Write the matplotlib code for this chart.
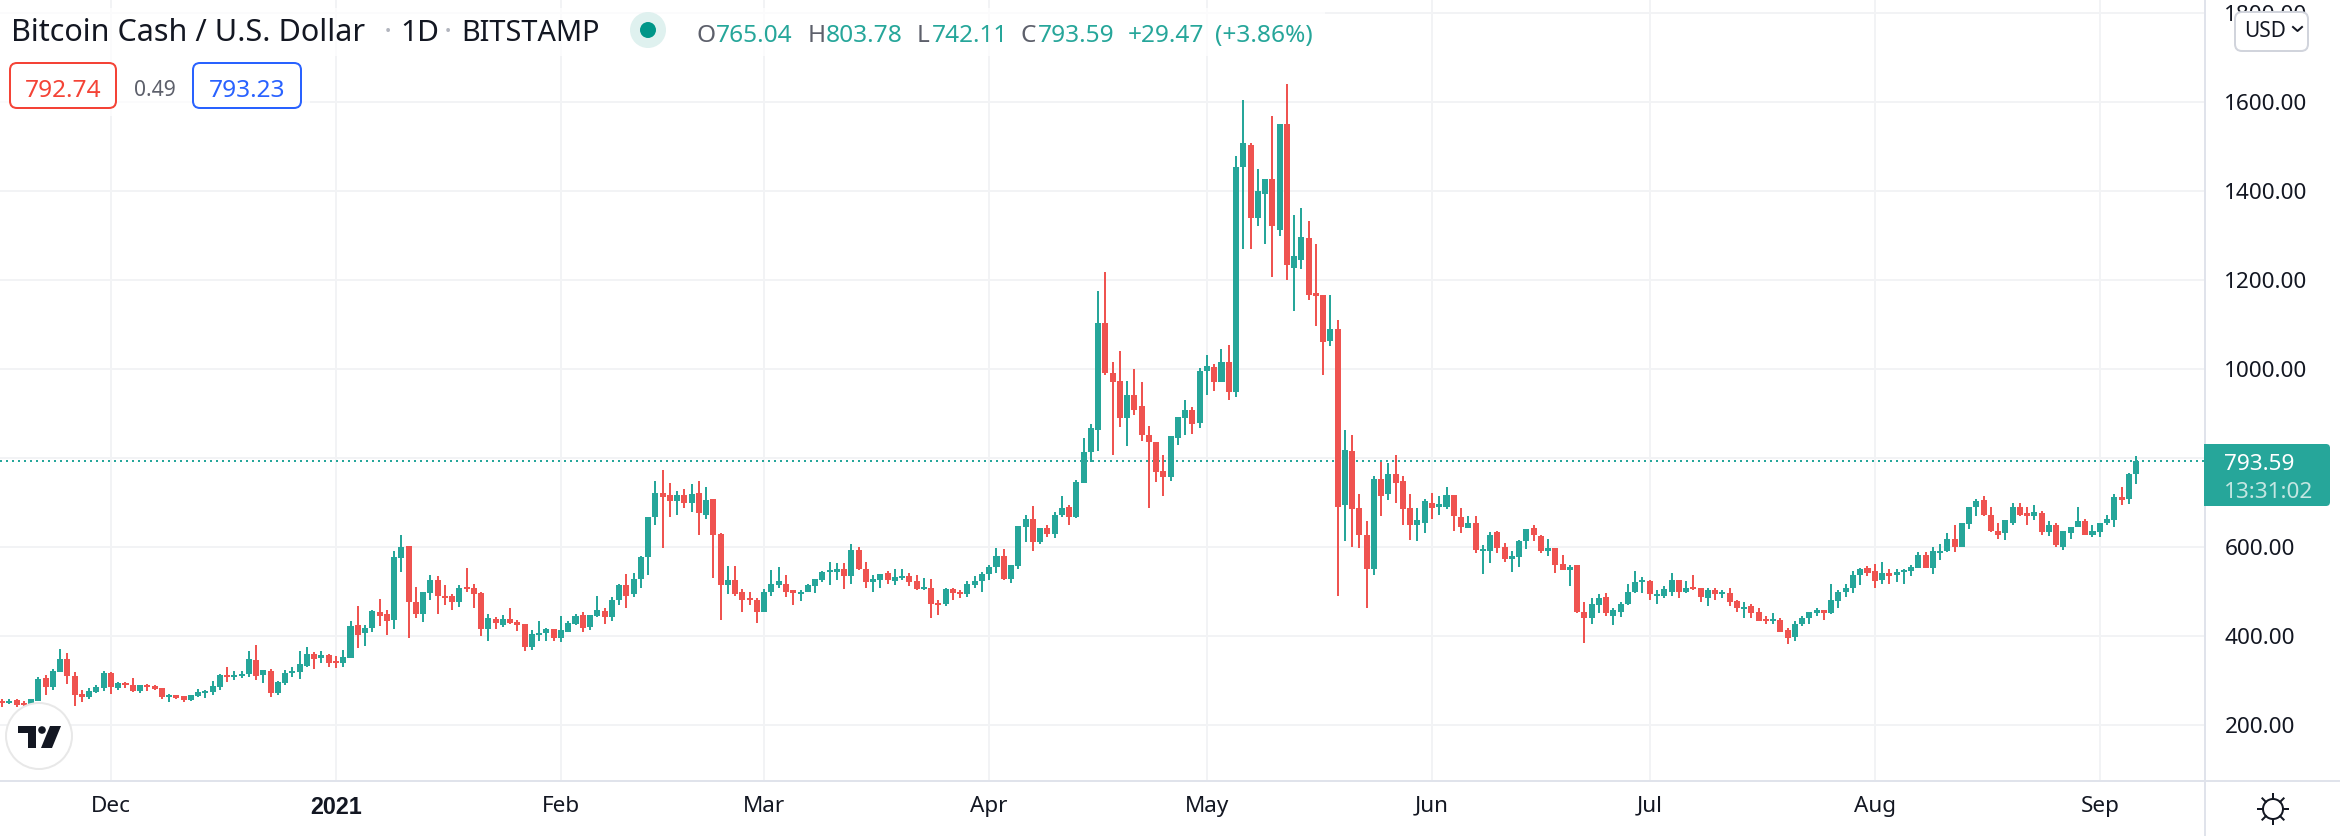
import numpy as np
import pandas as pd
import matplotlib
matplotlib.use('Agg')
import matplotlib.pyplot as plt
from matplotlib.patches import Circle, FancyBboxPatch, Polygon, Rectangle

plt.rcParams['font.family'] = ['Noto Sans', 'DejaVu Sans']

# daily candles, 2020-11-16 to 2021-09-06
opens = [
    252, 250, 256, 248, 246, 255, 306, 285, 319, 348,
    310, 270, 263, 274, 283, 317, 283, 294, 290, 276,
    290, 288, 283, 264, 267, 265, 256, 265, 272, 274,
    285, 310, 308, 310, 315, 346, 312, 321, 272, 294,
    317, 319, 333, 360, 351, 357, 341, 339, 351, 425,
    407, 418, 454, 449, 436, 575, 602, 476, 449, 497,
    526, 490, 490, 476, 508, 508, 497, 416, 438, 424,
    438, 431, 426, 375, 402, 406, 415, 395, 408, 426,
    447, 420, 444, 456, 442, 482, 514, 494, 527, 577,
    667, 721, 716, 703, 716, 700, 721, 673, 707, 629,
    514, 525, 498, 485, 480, 455, 498, 514, 518, 503,
    494, 498, 512, 525, 543, 543, 550, 534, 593, 550,
    521, 525, 541, 523, 530, 534, 523, 505, 509, 471,
    471, 505, 500, 494, 514, 523, 539, 554, 580, 528,
    557, 645, 663, 611, 643, 630, 673, 690, 667, 744,
    813, 862, 1103, 990, 972, 889, 941, 916, 851, 835,
    771, 757, 845, 889, 909, 878, 995, 1004, 970, 1015,
    948, 1453, 1503, 1339, 1393, 1428, 1312, 1550, 1228, 1244,
    1294, 1170, 1166, 1064, 1089, 694, 815, 687, 628, 550,
    752, 718, 763, 748, 687, 649, 655, 698, 690, 691,
    716, 667, 642, 655, 591, 590, 633, 601, 572, 577,
    613, 642, 624, 590, 597, 561, 548, 559, 453, 440,
    469, 487, 444, 455, 473, 498, 521, 523, 491, 491,
    500, 525, 500, 509, 507, 485, 503, 494, 496, 478,
    460, 467, 453, 437, 433, 435, 413, 397, 426, 440,
    451, 458, 451, 478, 498, 507, 536, 552, 545, 525,
    541, 536, 543, 545, 552, 581, 552, 586, 590, 619,
    601, 651, 689, 705, 671, 637, 631, 655, 691, 676,
    669, 676, 633, 649, 601, 631, 644, 658, 628, 633,
    653, 660, 712, 707, 765.04,
]
closes = [
    249, 255, 245, 246, 258, 303, 285, 321, 348, 311,
    267, 263, 276, 286, 317, 285, 294, 290, 276, 290,
    285, 282, 263, 267, 261, 256, 267, 274, 274, 288,
    312, 308, 312, 315, 348, 310, 324, 272, 297, 317,
    321, 337, 360, 348, 357, 339, 339, 353, 423, 402,
    418, 456, 445, 434, 578, 600, 476, 449, 499, 526,
    490, 485, 476, 508, 506, 494, 416, 440, 429, 438,
    429, 424, 375, 404, 406, 415, 395, 413, 429, 444,
    417, 447, 458, 442, 482, 514, 491, 527, 577, 667,
    721, 712, 703, 716, 700, 718, 676, 705, 626, 514,
    525, 494, 482, 480, 455, 500, 516, 523, 500, 496,
    498, 514, 527, 543, 545, 550, 534, 593, 550, 521,
    527, 539, 525, 532, 534, 521, 505, 509, 471, 469,
    505, 496, 494, 516, 523, 539, 554, 579, 528, 560,
    647, 663, 611, 643, 630, 673, 688, 667, 746, 813,
    867, 1103, 990, 970, 891, 941, 909, 851, 835, 768,
    757, 849, 892, 907, 876, 995, 1006, 970, 1015, 948,
    1453, 1507, 1339, 1399, 1428, 1321, 1550, 1233, 1255, 1296,
    1166, 1163, 1060, 1091, 691, 819, 685, 626, 550, 752,
    714, 763, 743, 685, 649, 660, 703, 687, 696, 716,
    669, 644, 655, 593, 595, 628, 597, 572, 579, 613,
    640, 626, 590, 597, 559, 548, 554, 453, 440, 471,
    485, 451, 458, 473, 500, 521, 525, 494, 494, 505,
    525, 500, 509, 505, 487, 503, 494, 496, 476, 462,
    464, 451, 433, 433, 436, 410, 395, 428, 440, 453,
    458, 452, 480, 500, 509, 536, 550, 541, 523, 541,
    534, 543, 548, 554, 581, 552, 590, 590, 619, 601,
    653, 691, 703, 671, 635, 628, 660, 691, 673, 669,
    678, 633, 649, 604, 635, 644, 658, 628, 635, 655,
    662, 712, 705, 763, 793.59,
]
highs = [
    258, 258, 258, 254, 258, 308, 312, 326, 371, 362,
    319, 279, 283, 289, 321, 319, 297, 297, 306, 290,
    292, 290, 283, 270, 267, 265, 267, 281, 279, 299,
    315, 330, 321, 321, 366, 380, 324, 326, 299, 324,
    330, 366, 375, 364, 366, 360, 355, 369, 434, 467,
    425, 458, 483, 458, 591, 627, 602, 510, 499, 537,
    535, 515, 494, 515, 553, 517, 499, 449, 443, 447,
    462, 435, 426, 413, 433, 417, 415, 444, 433, 449,
    453, 447, 489, 462, 487, 518, 539, 541, 579, 667,
    748, 772, 743, 725, 730, 741, 748, 734, 709, 631,
    557, 557, 505, 500, 485, 505, 548, 554, 536, 503,
    503, 516, 527, 545, 566, 563, 563, 606, 599, 566,
    536, 539, 545, 550, 550, 541, 536, 530, 527, 480,
    507, 507, 503, 523, 534, 543, 559, 597, 596, 560,
    647, 672, 692, 643, 649, 679, 715, 694, 751, 845,
    876, 1175, 1217, 1015, 1040, 972, 999, 970, 871, 835,
    807, 849, 892, 930, 914, 1002, 1031, 1011, 1046, 1053,
    1478, 1604, 1507, 1449, 1428, 1568, 1550, 1640, 1345, 1361,
    1332, 1280, 1166, 1166, 1109, 864, 851, 718, 658, 759,
    790, 788, 806, 759, 718, 687, 709, 721, 714, 734,
    716, 687, 669, 669, 604, 633, 637, 610, 590, 615,
    640, 649, 626, 619, 597, 581, 559, 559, 476, 485,
    494, 496, 462, 476, 516, 545, 532, 525, 503, 512,
    541, 525, 523, 536, 509, 509, 509, 503, 507, 482,
    476, 471, 462, 444, 451, 440, 419, 433, 444, 455,
    462, 458, 516, 503, 518, 545, 552, 557, 561, 566,
    550, 550, 550, 559, 588, 588, 599, 606, 631, 649,
    653, 691, 707, 714, 689, 653, 660, 698, 698, 689,
    694, 680, 658, 655, 635, 646, 691, 664, 649, 655,
    673, 718, 734, 766, 803.78,
]
lows = [
    241, 247, 241, 241, 246, 254, 267, 279, 319, 292,
    243, 252, 258, 271, 276, 270, 279, 283, 274, 272,
    276, 279, 258, 252, 258, 252, 254, 263, 261, 267,
    279, 297, 301, 306, 308, 301, 294, 263, 267, 290,
    308, 303, 330, 326, 339, 330, 328, 330, 351, 373,
    378, 409, 423, 402, 416, 544, 396, 440, 431, 481,
    449, 470, 458, 465, 499, 463, 400, 389, 416, 420,
    426, 411, 366, 368, 388, 388, 388, 386, 408, 424,
    408, 413, 442, 426, 433, 469, 464, 487, 507, 536,
    649, 597, 667, 671, 687, 678, 626, 664, 530, 435,
    494, 489, 453, 469, 429, 455, 491, 509, 487, 469,
    478, 498, 496, 521, 514, 525, 505, 518, 548, 509,
    498, 507, 518, 514, 525, 512, 503, 503, 440, 447,
    467, 482, 485, 487, 507, 498, 525, 541, 526, 519,
    551, 611, 591, 607, 622, 620, 667, 649, 665, 744,
    791, 815, 986, 806, 869, 826, 896, 838, 687, 745,
    715, 748, 829, 851, 855, 867, 941, 950, 970, 930,
    936, 1269, 1269, 1321, 1280, 1206, 1298, 1199, 1130, 1224,
    1154, 1096, 986, 1051, 489, 613, 601, 597, 464, 536,
    669, 705, 698, 649, 615, 613, 631, 664, 671, 685,
    637, 631, 642, 586, 539, 563, 586, 566, 543, 554,
    595, 613, 586, 579, 541, 548, 512, 451, 384, 426,
    451, 446, 424, 442, 469, 496, 496, 482, 471, 485,
    491, 485, 496, 503, 476, 467, 480, 485, 467, 455,
    440, 440, 433, 426, 428, 408, 381, 388, 422, 428,
    446, 437, 449, 464, 487, 496, 514, 534, 509, 516,
    518, 521, 518, 534, 552, 552, 539, 570, 588, 588,
    599, 640, 669, 669, 633, 617, 615, 649, 669, 649,
    660, 628, 624, 601, 593, 619, 644, 626, 622, 622,
    649, 646, 694, 696, 742.11,
]

start_date = '2020-11-16'
month_starts = ['2020-12-01', '2021-01-01', '2021-02-01', '2021-03-01', '2021-04-01',
                '2021-05-01', '2021-06-01', '2021-07-01', '2021-08-01', '2021-09-01']
month_labels = ['Dec', '2021', 'Feb', 'Mar', 'Apr', 'May', 'Jun', 'Jul', 'Aug', 'Sep']
price_ticks = [200, 400, 600, 800, 1000, 1200, 1400, 1600, 1800]
last_price = 793.59

GREEN = '#26a69a'
RED = '#ef5350'
GRID = '#f2f3f5'
AXIS = '#e0e3eb'
TEXT = '#131722'
GREY = '#5d606b'

W, H = 2340, 836
PX = 0.72  # one pixel in points at dpi 100

fig = plt.figure(figsize=(W / 100, H / 100), dpi=100, facecolor='white')

# chart area runs to x=2205, y=781 in picture pixels
ax = fig.add_axes([0, (H - 781) / H, 2205 / W, 781 / H])
ax.set_xlim(-0.29, 303.5)
ax.set_ylim(74.2, 1829.2)

o = np.array(opens, dtype=float)
c = np.array(closes, dtype=float)
days = np.arange(len(o))
colors = [GREEN if cl >= op else RED for op, cl in zip(o, c)]

ax.vlines(days, lows, highs, colors=colors, linewidth=2 * PX, zorder=3)
body_low = np.minimum(o, c)
body_height = np.maximum(np.abs(c - o), 4.5)
ax.bar(days, body_height, bottom=body_low, width=0.83, color=colors, linewidth=0, zorder=4)

ax.axhline(last_price, color=GREEN, linewidth=2 * PX, linestyle=(0, (1, 2)),
           dash_capstyle='butt', zorder=2)

start = pd.Timestamp(start_date)
month_pos = [(pd.Timestamp(d) - start).days for d in month_starts]
ax.set_xticks(month_pos)
ax.set_xticklabels(month_labels)
ax.yaxis.tick_right()
ax.set_yticks(price_ticks)
ax.set_yticklabels([f'{p:.2f}' for p in price_ticks])
ax.grid(True, color=GRID, linewidth=2 * PX, zorder=0)
ax.set_axisbelow(True)
ax.tick_params(axis='x', length=0, pad=10.5, labelsize=16.2, labelcolor=TEXT)
ax.tick_params(axis='y', length=0, pad=14, labelsize=16.2, labelcolor=TEXT)
for lab in ax.get_xticklabels():
    if lab.get_text() == '2021':
        lab.set_family(['Liberation Sans'])
        lab.set_fontweight('bold')
        lab.set_fontsize(16.8)
for name, spine in ax.spines.items():
    spine.set_visible(name in ('right', 'bottom'))
    spine.set_color(AXIS)
    spine.set_linewidth(2 * PX)

# overlay in picture pixels for the header, badges and icons
ui = fig.add_axes([0, 0, 1, 1], facecolor='none')
ui.set_xlim(0, W)
ui.set_ylim(H, 0)
ui.axis('off')

ui.plot([2205, W], [781, 781], color=AXIS, linewidth=2 * PX)
ui.plot([2205, 2205], [781, H], color=AXIS, linewidth=2 * PX)

# header wash
ui.add_patch(Rectangle((0, 8), 1325, 48, facecolor='white', alpha=0.75, linewidth=0))
ui.add_patch(Rectangle((0, 56), 310, 60, facecolor='white', alpha=0.75, linewidth=0))

ui.text(11, 41, 'Bitcoin Cash / U.S. Dollar', color=TEXT, fontsize=22, va='baseline')
ui.text(388, 41, '·', color='#b2b5be', fontsize=22, va='baseline', ha='center')
ui.text(400, 41, '1D', color=TEXT, fontsize=21.5, va='baseline')
ui.text(448, 41, '·', color='#b2b5be', fontsize=22, va='baseline', ha='center')
ui.text(461, 41, 'BITSTAMP', color=TEXT, fontsize=20.8, va='baseline')

ui.add_patch(Circle((648, 30), 18, facecolor='#dff1ef', linewidth=0))
ui.add_patch(Circle((648, 30), 8, facecolor='#009688', linewidth=0))

header = [(697, 'O', GREY), (716, '765.04', GREEN), (808, 'H', GREY), (826, '803.78', GREEN),
          (917, 'L', GREY), (932, '742.11', GREEN), (1020, 'C', GREY), (1038, '793.59', GREEN),
          (1128, '+29.47', GREEN), (1215, '(+3.86%)', GREEN)]
for x, s, col in header:
    ui.text(x, 42, s, color=col, fontsize=17.6, va='baseline')

# bid / ask badges
ui.add_patch(FancyBboxPatch((10, 63), 106, 45, boxstyle='round,pad=0,rounding_size=7',
                            facecolor='white', edgecolor='#f44336', linewidth=2 * PX))
ui.text(63, 97, '792.74', color='#f44336', fontsize=17.6, ha='center', va='baseline')
ui.text(155, 96, '0.49', color=GREY, fontsize=15.2, ha='center', va='baseline')
ui.add_patch(FancyBboxPatch((193, 63), 108, 45, boxstyle='round,pad=0,rounding_size=7',
                            facecolor='white', edgecolor='#2962ff', linewidth=2 * PX))
ui.text(247, 97, '793.23', color='#2962ff', fontsize=17.6, ha='center', va='baseline')

# currency button
ui.add_patch(FancyBboxPatch((2235, 12), 73, 39, boxstyle='round,pad=0,rounding_size=7',
                            facecolor='white', edgecolor='#d1d4dc', linewidth=2 * PX))
ui.text(2244, 37, 'USD', color=TEXT, fontsize=15, va='baseline')
ui.plot([2293, 2297.5, 2302], [27, 31, 27], color=TEXT, linewidth=2 * PX)

# last price tag
ui.add_patch(FancyBboxPatch((2204, 444), 126, 62, boxstyle='round,pad=0,rounding_size=4',
                            facecolor=GREEN, linewidth=0))
ui.add_patch(Rectangle((2204, 444), 10, 62, facecolor=GREEN, linewidth=0))
ui.text(2224, 470, '793.59', color='white', fontsize=16.2, va='baseline')
ui.text(2224, 498, '13:31:02', color='#c4e6e2', fontsize=16.2, va='baseline')

# settings icon
ui.add_patch(Circle((2273, 809), 10, facecolor='none', edgecolor=TEXT, linewidth=2 * PX))
for a in np.arange(8) * np.pi / 4:
    ui.plot([2273 + 10 * np.cos(a), 2273 + 15 * np.cos(a)],
            [809 + 10 * np.sin(a), 809 + 15 * np.sin(a)], color=TEXT, linewidth=2 * PX)

# TradingView badge
ui.add_patch(Circle((39, 736), 33, facecolor='white', edgecolor='#e8e8e8', linewidth=2 * PX))
ui.add_patch(Polygon([(18, 726), (36, 726), (36, 748), (28, 748), (28, 733), (18, 733)],
                     facecolor=TEXT, linewidth=0))
ui.add_patch(Circle((42, 730), 3.8, facecolor=TEXT, linewidth=0))
ui.add_patch(Polygon([(50, 726), (61, 726), (52, 748), (41, 748)], facecolor=TEXT, linewidth=0))

fig.savefig('out.png', dpi=100, facecolor='white')
